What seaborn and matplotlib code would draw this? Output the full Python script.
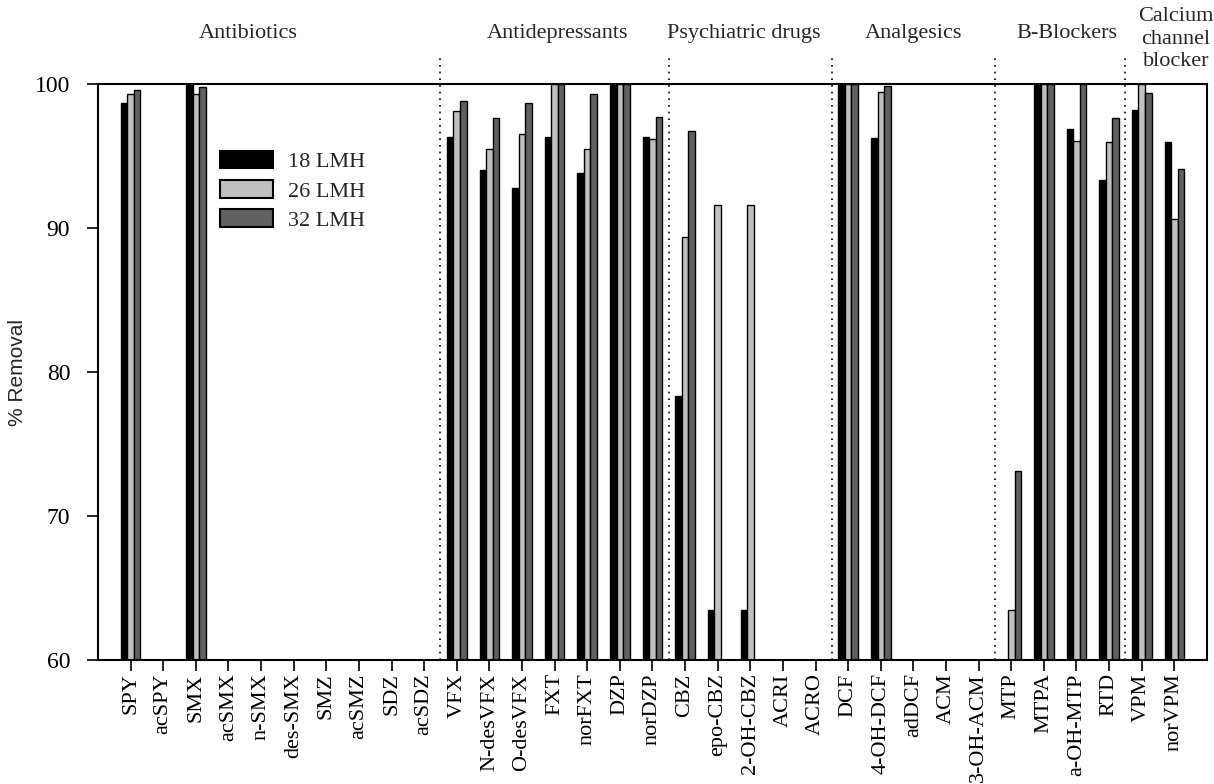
import numpy as np
import pandas as pd
import matplotlib
matplotlib.use("Agg")
import matplotlib.pyplot as plt
import seaborn as sns

nan = np.nan

compounds = ["SPY", "acSPY", "SMX", "acSMX", "n-SMX", "des-SMX", "SMZ", "acSMZ", "SDZ", "acSDZ",
             "VFX", "N-desVFX", "O-desVFX", "FXT", "norFXT", "DZP", "norDZP",
             "CBZ", "epo-CBZ", "2-OH-CBZ", "ACRI", "ACRO",
             "DCF", "4-OH-DCF", "adDCF", "ACM", "3-OH-ACM",
             "MTP", "MTPA", "a-OH-MTP", "RTD",
             "VPM", "norVPM"]

groups = ["Antibiotics", "Antidepressants", "Psychiatric drugs", "Analgesics",
          "B-Blockers", "Calcium\nchannel\nblocker"]
group_sizes = [10, 7, 5, 5, 4, 2]

series = ["18 LMH", "26 LMH", "32 LMH"]

lmh18 = [98.66, nan, 100.0, nan, nan, nan, nan, nan, nan, nan,
         96.3, 94.05, 92.8, 96.3, 93.8, 100.0, 96.3,
         78.3, 63.45, 63.45, nan, nan,
         100.0, 96.25, nan, nan, nan,
         nan, 100.0, 96.85, 93.3,
         98.2, 95.95]
lmh26 = [99.28, nan, 99.3, nan, nan, nan, nan, nan, nan, nan,
         98.1, 95.5, 96.5, 100.0, 95.45, 100.0, 96.15,
         89.35, 91.6, 91.6, nan, nan,
         100.0, 99.45, nan, nan, nan,
         63.45, 100.0, 96.05, 96.0,
         100.0, 90.65]
lmh32 = [99.6, nan, 99.8, nan, nan, nan, nan, nan, nan, nan,
         98.8, 97.6, 98.7, 100.0, 99.3, 100.0, 97.7,
         96.7, nan, nan, nan, nan,
         100.0, 99.85, nan, nan, nan,
         73.15, 100.0, 100.0, 97.65,
         99.4, 94.1]

colors = ["#000000", "#c0c0c0", "#606060"]

df = pd.DataFrame({
    "compound": compounds * 3,
    "flux": [series[0]] * len(compounds) + [series[1]] * len(compounds) + [series[2]] * len(compounds),
    "removal": lmh18 + lmh26 + lmh32,
})

sns.set_style("ticks")
plt.rcParams["font.family"] = ["Liberation Serif", "DejaVu Serif"]

fig = plt.figure(figsize=(12.14, 7.84), dpi=100)
ax = fig.add_axes([0.0807, 0.158, 0.9135, 0.735])

sns.barplot(data=df, x="compound", y="removal", hue="flux", order=compounds,
            hue_order=series, palette=colors, saturation=1, width=0.6,
            edgecolor="black", linewidth=1, errorbar=None, ax=ax)

ax.set_xlim(-1, 33)
ax.set_ylim(60, 100)
ax.set_yticks([60, 70, 80, 90, 100])
ax.tick_params(axis="both", direction="out", length=8, width=1.2, labelsize=16, colors="black")
ax.tick_params(axis="x", rotation=90, pad=1.5)
ax.tick_params(axis="y", labelsize=17, pad=12)
for sp in ax.spines.values():
    sp.set_visible(True)
    sp.set_linewidth(1.5)
    sp.set_color("black")

ax.set_xlabel("")
ax.set_ylabel("% Removal", fontsize=15, family=["Liberation Sans", "DejaVu Sans"])
ax.yaxis.set_label_coords(-0.064, 0.5)

# group separators
bounds = np.cumsum(group_sizes)[:-1] - 0.5
ax.vlines(bounds, 60, 102, colors="black", linestyles=(0, (1, 3)), linewidth=1.2, clip_on=False)

# group labels
label_x = [3.6, 13.1, 18.8, 24.0, 28.7, 32.05]
for name, lx in zip(groups, label_x):
    if "\n" in name:
        ax.text(lx, 103.1, name, ha="center", va="center", fontsize=16, linespacing=1.25, clip_on=False)
    else:
        ax.text(lx, 103.5, name, ha="center", va="center", fontsize=16, clip_on=False)

leg = ax.legend(loc="upper left", bbox_to_anchor=(0.11, 0.884), frameon=False, fontsize=16,
                handlelength=2.4, handleheight=0.85, labelspacing=0.35, handletextpad=0.65,
                borderpad=0, borderaxespad=0)
for h in leg.legend_handles:
    h.set_edgecolor("black")
    h.set_linewidth(1.5)

fig.savefig("out.png", dpi=100)
